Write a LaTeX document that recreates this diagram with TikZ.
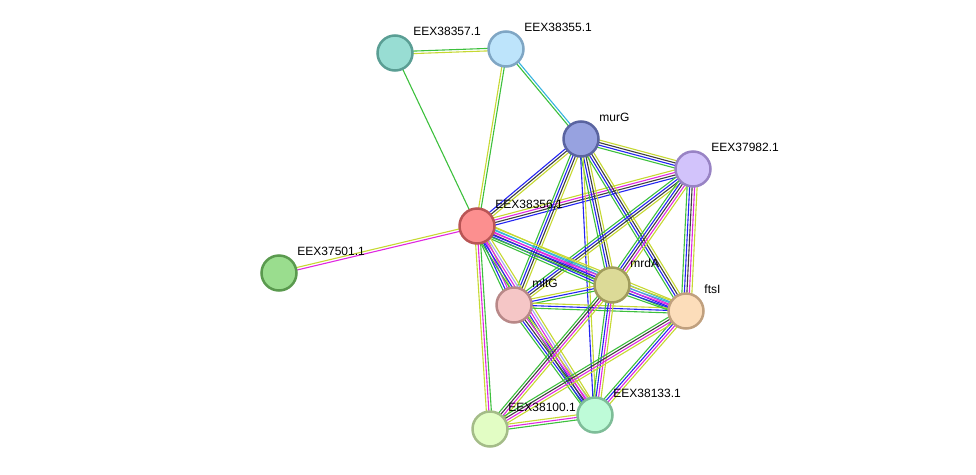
\documentclass[tikz,border=0pt]{standalone}
\usepackage{fontspec}
\setmainfont{Liberation Sans}
\definecolor{evgreen}{HTML}{3DC03D}
\definecolor{evblue}{HTML}{2424F2}
\definecolor{evblack}{HTML}{3F3F3F}
\definecolor{evyellow}{HTML}{C6D832}
\definecolor{evmagenta}{HTML}{E028E0}
\definecolor{evcyan}{HTML}{34B2DE}
\definecolor{evlilac}{HTML}{A6A6F2}
\usetikzlibrary{calc, backgrounds}

% one link = several parallel evidence lines
\newcommand{\evlink}[3]{%
  \foreach \c [count=\i] in {#3} {\xdef\nlines{\i}}%
  \foreach \c [count=\i] in {#3} {%
    \pgfmathsetmacro\off{(\i-(\nlines+1)/2)*2.5}%
    \draw[evline, draw=\c] ($(#1)!\off pt!90:(#2)$) -- ($(#2)!\off pt!-90:(#1)$);
  }%
}

\begin{document}
\begin{tikzpicture}[
  x=1pt, y=-1pt,
  prot/.style={circle, minimum size=35pt, inner sep=0pt, line width=2.5pt},
  tag/.style={font=\fontsize{12}{14}\selectfont, inner sep=0pt,
              anchor=south west, xshift=5pt, yshift=4pt},
  evline/.style={line width=1.1pt},
]
\useasboundingbox (0,0) rectangle (976,474);

\node[prot, fill={rgb,255:red,152;green,221;blue,211}, draw={rgb,255:red,90;green,158;blue,148},
  label={[tag]45:EEX38357.1}] (n357) at (395,53) {};
\node[prot, fill={rgb,255:red,189;green,228;blue,251}, draw={rgb,255:red,127;green,166;blue,196},
  label={[tag]45:EEX38355.1}] (n355) at (506,49) {};
\node[prot, fill={rgb,255:red,151;green,162;blue,224}, draw={rgb,255:red,90;green,100;blue,160},
  label={[tag]45:murG}] (murG) at (581,139) {};
\node[prot, fill={rgb,255:red,210;green,195;blue,251}, draw={rgb,255:red,152;green,131;blue,196},
  label={[tag]45:EEX37982.1}] (n982) at (693,169) {};
\node[prot, fill={rgb,255:red,252;green,143;blue,143}, draw={rgb,255:red,185;green,85;blue,85},
  label={[tag]45:EEX38356.1}] (n356) at (477,226) {};
\node[prot, fill={rgb,255:red,154;green,221;blue,142}, draw={rgb,255:red,90;green,154;blue,78},
  label={[tag]45:EEX37501.1}] (n501) at (279,273) {};
\node[prot, fill={rgb,255:red,245;green,198;blue,198}, draw={rgb,255:red,184;green,136;blue,136},
  label={[tag]45:mltG}] (mltG) at (514,305) {};
\node[prot, fill={rgb,255:red,220;green,218;blue,151}, draw={rgb,255:red,160;green,156;blue,92},
  label={[tag]45:mrdA}] (mrdA) at (612,285) {};
\node[prot, fill={rgb,255:red,252;green,221;blue,186}, draw={rgb,255:red,192;green,160;blue,126},
  label={[tag]45:ftsI}] (ftsI) at (686,311) {};
\node[prot, fill={rgb,255:red,226;green,253;blue,196}, draw={rgb,255:red,164;green,188;blue,136},
  label={[tag]45:EEX38100.1}] (n100) at (490,429) {};
\node[prot, fill={rgb,255:red,190;green,251;blue,216}, draw={rgb,255:red,126;green,189;blue,152},
  label={[tag]45:EEX38133.1}] (n133) at (595,415) {};

\begin{scope}[on background layer]
\evlink{n357}{n355}{evyellow,evgreen}
\evlink{n357}{n356}{evgreen}
\evlink{n355}{n356}{evyellow,evgreen}
\evlink{n355}{murG}{evgreen,evcyan}
\evlink{n356}{n501}{evyellow,evmagenta}
\evlink{murG}{n356}{evblue,evblack,evyellow}
\evlink{murG}{n982}{evgreen,evblue,evblack,evyellow}
\evlink{n356}{n982}{evblue,evblack,evmagenta,evyellow}
\evlink{murG}{mltG}{evgreen,evblue,evblack,evyellow}
\evlink{murG}{mrdA}{evgreen,evblue,evblack,evyellow}
\evlink{murG}{ftsI}{evgreen,evblue,evblack,evyellow}
\evlink{murG}{n133}{evblue,evyellow}
\evlink{n982}{mltG}{evgreen,evblue,evblack,evyellow}
\evlink{n982}{mrdA}{evgreen,evblue,evblack,evmagenta,evyellow}
\evlink{n982}{ftsI}{evgreen,evblue,evblack,evmagenta,evyellow}
\evlink{n356}{mltG}{evgreen,evblue,evmagenta,evyellow}
\evlink{n356}{mrdA}{evgreen,evblue,evblack,evmagenta,evcyan,evyellow}
\evlink{n356}{ftsI}{evgreen,evblue,evmagenta,evcyan,evyellow}
\evlink{n356}{n133}{evgreen,evblue,evmagenta,evlilac,evyellow}
\evlink{n356}{n100}{evyellow,evmagenta,evgreen}
\evlink{mltG}{mrdA}{evgreen,evblue,evyellow}
\evlink{mltG}{ftsI}{evgreen,evblue,evyellow}
\evlink{mrdA}{ftsI}{evgreen,evblue,evmagenta,evcyan,evyellow}
\evlink{mltG}{n133}{evgreen,evblue,evblack,evmagenta,evyellow}
\evlink{mrdA}{n133}{evgreen,evblue,evmagenta,evyellow}
\evlink{mrdA}{n100}{evgreen,evblack,evmagenta,evyellow}
\evlink{ftsI}{n133}{evgreen,evblue,evmagenta,evyellow}
\evlink{ftsI}{n100}{evgreen,evblack,evmagenta,evyellow}
\evlink{n100}{n133}{evgreen,evmagenta,evyellow}
\end{scope}
\end{tikzpicture}
\end{document}
